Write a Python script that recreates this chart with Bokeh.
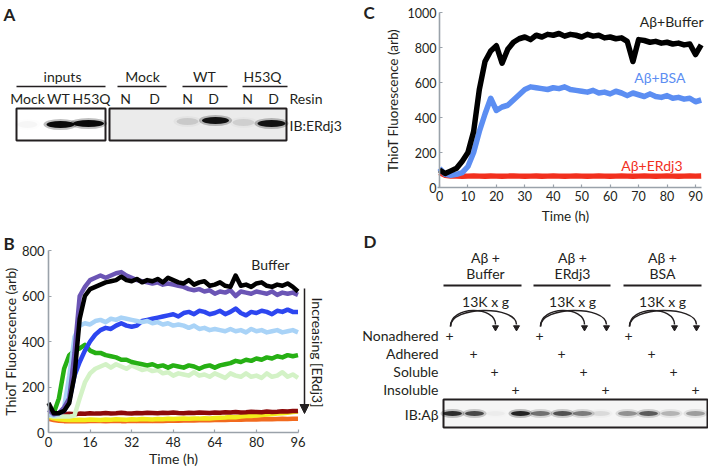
import math
from bokeh.plotting import figure
from bokeh.models import Range1d, Arrow, NormalHead, FixedTicker, LinearAxis
from bokeh.embed import file_html
from bokeh.resources import INLINE
from bokeh.core.properties import value

FONT = "Lato"
INK = "#231f20"
AXC = "#9aa2aa"

# ---------------- Panel A (western blot) ----------------
a_groups = ["inputs", "Mock", "WT", "H53Q"]
a_group_xc = [62, 142, 204, 262]
a_group_x0 = [16, 117, 182, 242]
a_group_x1 = [105, 166, 227, 287]
a_lane_labels = ["Mock", "WT", "H53Q", "N", "D", "N", "D", "N", "D"]
a_lane_x = [27, 58, 91, 125, 154, 187, 213, 247, 273]
a_band_x = [27, 60, 88, 125, 154, 187, 215, 243, 271]
a_band_y = [124, 124, 123, 122, 122, 121, 120, 122, 123]
a_band_w = [20, 28, 31, 22, 22, 22, 27, 22, 28]
a_band_int = [0.03, 1.0, 1.0, 0.0, 0.0, 0.12, 0.95, 0.10, 0.95]
a_box_x0 = [16, 109]
a_box_x1 = [105, 286]
a_box_fill = ["#ffffff", "#ebebeb"]

# ---------------- Panel B (ThioT kinetics, ERdj3 titration) ----------------
t_b = list(range(0, 97, 2))
b_buffer = [130, 85, 85, 95, 130, 250, 500, 600, 630, 640, 650, 660, 665, 670, 685, 670, 665, 675, 660, 670,
            665, 675, 660, 680, 670, 660, 655, 670, 650, 660, 665, 645, 650, 660, 645, 640, 690, 645, 650, 640,
            655, 660, 645, 640, 650, 645, 655, 640, 620]
b_purple = [100, 80, 85, 110, 150, 350, 600, 640, 670, 680, 690, 680, 690, 700, 705, 690, 680, 670, 665, 660,
            655, 660, 650, 655, 650, 645, 640, 630, 625, 630, 620, 625, 610, 620, 615, 625, 600, 620, 615, 610,
            620, 615, 610, 620, 605, 615, 610, 615, 605]
b_blue = [85, 80, 85, 95, 140, 250, 310, 360, 400, 430, 450, 460, 455, 470, 480, 470, 465, 470, 490, 495,
          500, 505, 510, 515, 520, 510, 525, 530, 520, 535, 530, 520, 525, 535, 520, 530, 545, 525, 515, 530,
          525, 535, 530, 520, 535, 530, 540, 530, 530]
b_lightblue = [80, 75, 80, 110, 250, 420, 470, 480, 475, 490, 495, 485, 500, 495, 505, 500, 495, 490, 485, 490,
               480, 485, 475, 480, 470, 475, 470, 460, 470, 455, 460, 450, 455, 450, 445, 455, 445, 450, 440, 455,
               445, 450, 440, 445, 450, 440, 445, 450, 440]
b_green = [80, 85, 150, 280, 340, 360, 370, 385, 360, 350, 350, 340, 335, 330, 320, 320, 310, 305, 300, 295,
           300, 290, 295, 285, 295, 290, 285, 295, 290, 280, 290, 295, 285, 295, 300, 305, 315, 310, 320, 315,
           325, 320, 330, 325, 335, 330, 340, 335, 340]
b_lightgreen = [75, 70, 70, 70, 70, 75, 150, 220, 260, 280, 290, 300, 285, 300, 290, 280, 295, 285, 275, 280,
                270, 275, 260, 265, 250, 260, 255, 250, 265, 250, 255, 245, 260, 250, 240, 260, 250, 245, 260, 245,
                250, 240, 260, 245, 250, 265, 245, 255, 240]
b_darkred = [80, 75, 78, 80, 82, 80, 83, 82, 85, 83, 84, 86, 84, 85, 87, 85, 84, 86, 85, 87,
             86, 85, 87, 86, 88, 86, 85, 87, 86, 88, 87, 86, 88, 87, 89, 88, 90, 88, 89, 91,
             90, 89, 92, 90, 91, 93, 92, 94, 95]
b_yellow = [70, 62, 58, 56, 55, 55, 56, 55, 57, 56, 55, 57, 56, 58, 57, 56, 58, 57, 59, 58,
            57, 59, 58, 60, 59, 60, 61, 60, 62, 61, 63, 62, 64, 65, 66, 68, 67, 70, 72, 73,
            75, 77, 79, 80, 83, 85, 87, 90, 92]
b_orange = [60, 55, 52, 50, 50, 49, 50, 49, 50, 51, 50, 49, 50, 51, 50, 50, 51, 50, 52, 51,
            50, 52, 51, 52, 53, 52, 53, 54, 53, 54, 55, 54, 55, 56, 55, 56, 57, 56, 57, 58,
            57, 58, 59, 58, 59, 60, 59, 60, 60]
b_xticks = [0, 16, 32, 48, 64, 80, 96]
b_yticks = [0, 200, 400, 600, 800]

# ---------------- Panel C (ThioT kinetics, controls) ----------------
t_c = list(range(0, 93, 2))
c_buffer = [100, 80, 95, 110, 150, 200, 320, 560, 720, 780, 810, 710, 790, 830, 850, 860, 845, 870, 860, 875,
            870, 880, 865, 875, 870, 860, 875, 865, 870, 855, 860, 850, 855, 835, 720, 845, 840, 830, 835, 825,
            830, 820, 825, 815, 820, 760, 815]
c_bsa = [110, 75, 70, 75, 85, 120, 200, 320, 420, 510, 440, 460, 470, 500, 530, 560, 575, 570, 565, 560,
         570, 565, 575, 560, 555, 550, 545, 555, 540, 545, 535, 550, 540, 525, 540, 530, 520, 535, 520, 515,
         525, 510, 515, 505, 510, 490, 500]
c_erdj3 = [85, 70, 66, 65, 64, 65, 66, 65, 64, 66, 65, 64, 65, 66, 65, 64, 65, 66, 64, 65,
           66, 65, 64, 65, 66, 65, 64, 65, 66, 65, 64, 65, 66, 65, 64, 65, 66, 65, 64, 65,
           66, 65, 64, 65, 66, 65, 66]
c_xticks = [0, 10, 20, 30, 40, 50, 60, 70, 80, 90]
c_yticks = [0, 200, 400, 600, 800, 1000]

# ---------------- Panel D (sedimentation blot) ----------------
d_head1 = ["A\u03b2 +", "A\u03b2 +", "A\u03b2 +"]
d_head2 = ["Buffer", "ERdj3", "BSA"]
d_group_xc = [485, 572, 662]
d_group_x0 = [443, 533, 623]
d_group_x1 = [521, 610, 701]
d_rows = ["Nonadhered", "Adhered", "Soluble", "Insoluble"]
d_row_y = [335, 353, 371, 389]
d_lane_x = [449, 473, 494, 515, 539, 561, 583, 605, 628, 651, 673, 695]
d_band_x = [452, 474, 495, 520, 540, 562, 582, 600, 627, 648, 670, 695]
d_band_int = [0.9, 0.75, 0.03, 0.95, 0.55, 0.7, 0.5, 0.1, 0.4, 0.65, 0.25, 0.35]

# ---------------- page geometry (pixels) ----------------
W, H = 708, 467
# plot B: x=0 at px 48, 96 at px 297.5; y=0 at py 432, 800 at py 250
B_X0, B_X96, B_Y0, B_Y800 = 48.0, 297.5, 432.0, 250.0
# plot C: x=0 at px 439, 90 at px 695; y=0 at py 187, 1000 at py 12
C_X0, C_X90, C_Y0, C_Y1000 = 439.0, 695.0, 187.0, 12.0

bsx = (B_X96 - B_X0) / 96.0
bsy = (B_Y0 - B_Y800) / 800.0
csx = (C_X90 - C_X0) / 90.0
csy = (C_Y0 - C_Y1000) / 1000.0

p = figure(width=W, height=H, x_range=Range1d(0, W), y_range=Range1d(H, 0),
           x_axis_type=None, y_axis_type=None, toolbar_location=None, output_backend="svg",
           min_border=0, outline_line_color=None, title=None)
p.extra_x_ranges = {"bx": Range1d(-B_X0 / bsx, (W - B_X0) / bsx),
                    "cx": Range1d(-C_X0 / csx, (W - C_X0) / csx)}
p.extra_y_ranges = {"by": Range1d(-(H - B_Y0) / bsy, B_Y0 / bsy),
                    "cy": Range1d(-(H - C_Y0) / csy, C_Y0 / csy)}


def txt(xs, ys, texts, size=14, align="center", baseline="middle", style="normal", color=INK, angle=0.0):
    p.text(x=xs, y=ys, text=texts, text_font=value(FONT), text_font_size=f"{size}px",
           text_align=align, text_baseline=baseline, text_font_style=style,
           text_color=color, angle=angle)


def add_axis(side, xr, yr, ticks, bounds, tick_size, standoff):
    ax = LinearAxis(x_range_name=xr, y_range_name=yr, fixed_location=0,
                    ticker=FixedTicker(ticks=ticks), bounds=bounds)
    ax.axis_line_color = AXC
    ax.axis_line_width = 1.6
    ax.major_tick_line_color = AXC
    ax.major_tick_line_width = 1.2
    ax.major_tick_in = 3
    ax.major_tick_out = 0
    ax.minor_tick_line_color = None
    ax.major_label_text_font = FONT
    ax.major_label_text_font_size = f"{tick_size}px"
    ax.major_label_text_color = INK
    ax.major_label_standoff = standoff
    p.add_layout(ax, side)


# ---------------- Panel A ----------------
txt([3], [14], ["A"], size=17, align="left", style="bold")
txt(a_group_xc, [76] * 4, a_groups)
p.segment(x0=a_group_x0, x1=a_group_x1, y0=[86] * 4, y1=[86] * 4, line_color=INK, line_width=1.6)
txt(a_lane_x, [98] * 9, a_lane_labels)
txt([289], [98], ["Resin"], align="left")
p.quad(left=a_box_x0, right=a_box_x1, top=[108] * 2, bottom=[140] * 2,
       fill_color=a_box_fill, line_color=INK, line_width=2)
p.ellipse(x=a_band_x, y=a_band_y, width=[w + 6 for w in a_band_w], height=[11] * 9,
          fill_color="black", fill_alpha=[0.25 * i for i in a_band_int], line_color=None)
p.ellipse(x=a_band_x, y=a_band_y, width=a_band_w, height=[7] * 9,
          fill_color="black", fill_alpha=[0.95 * i for i in a_band_int], line_color=None)
txt([289], [125], ["IB:ERdj3"], align="left")

# ---------------- Panel B ----------------
b_series = [(b_orange, "#f26a1e"), (b_yellow, "#f2ec1a"), (b_darkred, "#8c0a0a"),
            (b_lightgreen, "#d3f2c6"), (b_green, "#26b014"), (b_blue, "#2d46f0"),
            (b_lightblue, "#a9d3f7"), (b_purple, "#6b55b5"), (b_buffer, "#000000")]
for ys, col in b_series:
    p.line(t_b, ys, line_color=col, line_width=4.5, line_join="round",
           x_range_name="bx", y_range_name="by")
add_axis("below", "bx", "by", b_xticks, (0, 96), 13, 4)
add_axis("left", "bx", "by", b_yticks, (0, 800), 13, 4)
txt([3], [243], ["B"], size=17, align="left", style="bold")
txt([173], [458], ["Time (h)"], size=14)
txt([10], [341], ["ThioT Fluorescence (arb)"], size=14, angle=math.pi / 2)
txt([270], [264], ["Buffer"], size=14)
p.add_layout(Arrow(end=NormalHead(size=9, fill_color=INK, line_color=INK, line_width=1),
                   x_start=304, y_start=288, x_end=304, y_end=413,
                   line_color=INK, line_width=1.5))
txt([317], [352], ["Increasing [ERdj3]"], size=14, angle=-math.pi / 2)

# ---------------- Panel C ----------------
for ys, col in [(c_erdj3, "#f2301e"), (c_bsa, "#5c8ef2"), (c_buffer, "#000000")]:
    p.line(t_c, ys, line_color=col, line_width=5.5, line_join="round",
           x_range_name="cx", y_range_name="cy")
add_axis("below", "cx", "cy", c_xticks, (-0.7, 92), 12.5, 3)
add_axis("left", "cx", "cy", c_yticks, (0, 1000), 12.5, 3)
txt([363], [12], ["C"], size=17, align="left", style="bold")
txt([565], [215], ["Time (h)"], size=13.5)
txt([392], [100], ["ThioT Fluorescence (arb)"], size=13.5, angle=math.pi / 2)
txt([703], [21], ["A\u03b2+Buffer"], size=14, align="right")
txt([685], [77], ["A\u03b2+BSA"], size=14, align="right", color="#5c8ef2")
txt([682], [165], ["A\u03b2+ERdj3"], size=14, align="right", color="#f2301e")

# ---------------- Panel D ----------------
txt([363], [241], ["D"], size=17, align="left", style="bold")
txt(d_group_xc, [257] * 3, d_head1)
txt(d_group_xc, [273] * 3, d_head2)
p.segment(x0=d_group_x0, x1=d_group_x1, y0=[285] * 3, y1=[285] * 3, line_color=INK, line_width=1.8)
txt(d_group_xc, [301] * 3, ["13K x g"] * 3)
arc_x0, arc_x1 = [], []
for g in range(3):
    start = d_lane_x[4 * g] + 1
    for k in (2, 3):
        arc_x0.append(start)
        arc_x1.append(d_lane_x[4 * g + k] + 1)
p.bezier(x0=arc_x0, y0=[326] * 6, x1=arc_x1, y1=[324] * 6,
         cx0=arc_x0, cy0=[305] * 6, cx1=arc_x1, cy1=[305] * 6, line_color=INK, line_width=1.5)
p.scatter(x=arc_x1, y=[327] * 6, marker="inverted_triangle", size=6, fill_color=INK, line_color=INK)
txt([438] * 4, d_row_y, d_rows, align="right")
txt(d_lane_x, [d_row_y[i % 4] for i in range(12)], ["+"] * 12)
p.quad(left=[443], right=[707], top=[399], bottom=[427], fill_color="#f5f5f5", line_color=INK, line_width=2)
p.ellipse(x=d_band_x, y=[413] * 12, width=[24] * 12, height=[9] * 12,
          fill_color="black", fill_alpha=[0.25 * i for i in d_band_int], line_color=None)
p.ellipse(x=d_band_x, y=[413] * 12, width=[19] * 12, height=[5] * 12,
          fill_color="black", fill_alpha=[0.85 * i for i in d_band_int], line_color=None)
txt([438], [414], ["IB:A\u03b2"], align="right")

open("out.html", "w").write(file_html(p, INLINE))
